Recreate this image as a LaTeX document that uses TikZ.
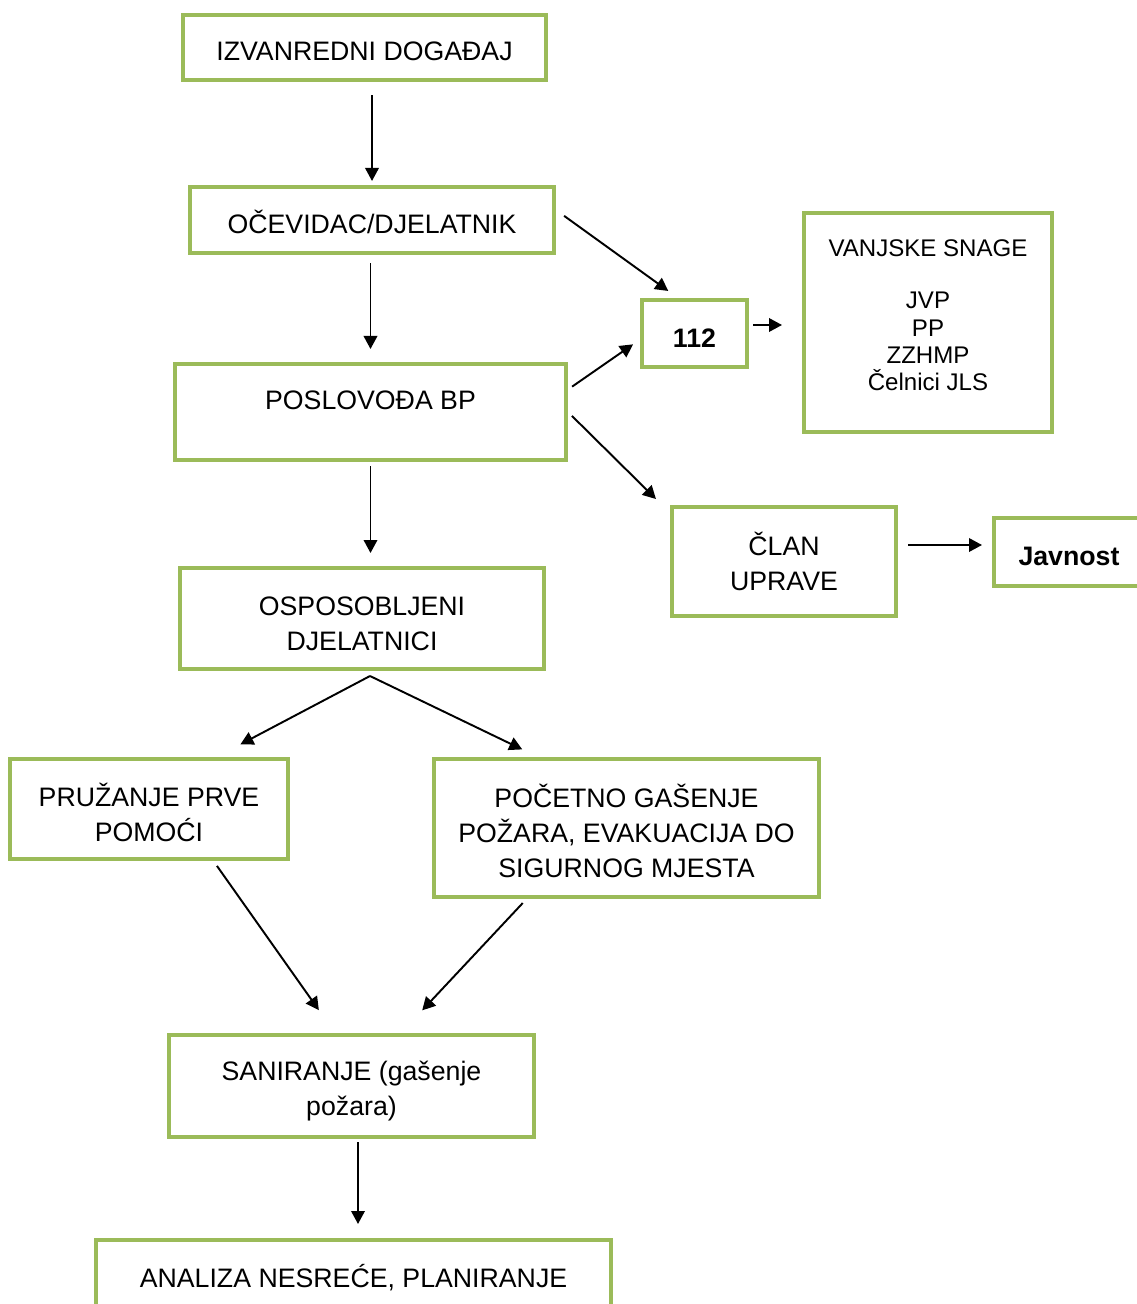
\documentclass[tikz,border=0pt]{standalone}
\usepackage{fontspec}
\setmainfont{Liberation Sans}
\usetikzlibrary{arrows.meta}
\definecolor{boxgreen}{HTML}{9BBB59}

\begin{document}
\begin{tikzpicture}[x=0.02cm,y=-0.02cm]
    \newcommand{\lift}[0]{\rule{0pt}{17pt}}

    \tikzstyle{dedge} = [line width=1.1pt,-{Triangle[length=0.26cm,width=0.27cm]},draw=black]

    \tikzstyle{box}=[
      rectangle,
      draw=boxgreen,
      line width=2.3pt,
      anchor=center,
      align=center,
      execute at begin node={\rule{0pt}{15.5pt}},
      font=\fontsize{15.2}{20}\selectfont,
    ]

    \useasboundingbox (0,0) rectangle (1136,1304);

    \node[box, minimum width=7.26cm, minimum height=1.30cm] (izv) at (364.5,47.5) {IZVANREDNI DOGAĐAJ};
    \node[box, minimum width=7.28cm, minimum height=1.32cm] (oce) at (372,220) {OČEVIDAC/DJELATNIK};
    \node[box, minimum width=7.82cm, minimum height=1.92cm] (pos) at (370.5,412) {\lift POSLOVOĐA BP\\~};
    \node[box, minimum width=2.10cm, minimum height=1.34cm] (n112) at (694.5,333.5) {\bfseries 112};
    \node[box, minimum width=4.96cm, minimum height=4.38cm, font=\fontsize{13.7}{15.6}\selectfont] (van) at (928,322.5) {
      \lift VANJSKE SNAGE\\[14pt]
      JVP\\
      PP\\
      ZZHMP\\
      Čelnici JLS\\~
    };
    \node[box, minimum width=4.48cm, minimum height=2.18cm] (clan) at (784,561.5) {ČLAN\\UPRAVE};
    \node[box, minimum width=3.00cm, minimum height=1.36cm] (jav) at (1069,552) {\bfseries Javnost};
    \node[box, minimum width=7.28cm, minimum height=2.02cm] (osp) at (362,618.5) {\lift OSPOSOBLJENI\\DJELATNICI};
    \node[box, minimum width=5.56cm, minimum height=2.00cm] (pru) at (149,809) {\lift PRUŽANJE PRVE\\POMOĆI};
    \node[box, minimum width=7.70cm, minimum height=2.76cm] (poc) at (626.5,828) {
      \lift POČETNO GAŠENJE\\
      POŽARA, EVAKUACIJA DO\\
      SIGURNOG MJESTA
    };
    \node[box, minimum width=7.30cm, minimum height=2.04cm] (san) at (351.5,1086) {\lift SANIRANJE (gašenje\\požara)};
    \node[box, minimum width=10.30cm, minimum height=2.00cm] (ana) at (353.5,1290) {\lift ANALIZA NESREĆE, PLANIRANJE\\~};

    \draw[dedge, shorten <=0.26cm, shorten >=0.08cm] (oce.north |- izv.south) -- (oce.north);
    \draw[dedge, shorten <=0.16cm, shorten >=0.26cm] (pos.north |- oce.south) -- (pos.north);
    \draw[dedge, shorten <=0.2cm, shorten >=0.24cm] ([yshift=0.2cm]oce.east) -- ([xshift=-0.33cm]n112.north);
    \draw[dedge, shorten <=0.1cm, shorten >=0.17cm] ([yshift=0.45cm]pos.east) -- ([yshift=-0.12cm]n112.west);
    \draw[dedge, shorten <=0.08cm, shorten >=0.4cm] ([yshift=0.17cm]n112.east) -- ([yshift=-0.05cm]van.west);
    \draw[dedge, shorten <=0.11cm, shorten >=0.17cm] (pos.east) -- ([xshift=-0.16cm]clan.north west);
    \draw[dedge, shorten <=0.2cm, shorten >=0.2cm] ([yshift=0.33cm]clan.east) -- ([yshift=0.14cm]jav.west);
    \draw[dedge, shorten <=0.08cm, shorten >=0.26cm] (pos.south) -- (pos.south |- osp.north);
    \draw[dedge, shorten >=0.54cm] ([xshift=0.16cm,yshift=-0.1cm]osp.south) -- ([xshift=1.35cm]pru.north);
    \draw[dedge, shorten >=0.35cm] ([xshift=0.16cm,yshift=-0.1cm]osp.south) -- ([xshift=-1.77cm]poc.north);
    \draw[dedge, shorten <=0.12cm, shorten >=0.56cm] ([xshift=1.29cm]pru.south) -- ([xshift=-0.33cm]san.north);
    \draw[dedge, shorten <=0.11cm, shorten >=0.62cm] ([xshift=-2.0cm]poc.south) -- ([xshift=0.99cm]san.north);
    \draw[dedge, shorten <=0.06cm, shorten >=0.28cm] ([xshift=0.13cm]san.south) -- ([xshift=0.09cm]ana.north);
  \end{tikzpicture}
\end{document}
